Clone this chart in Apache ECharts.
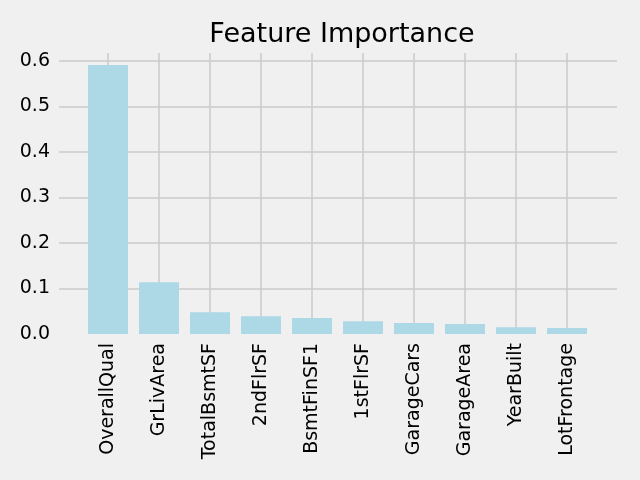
<!DOCTYPE html>
<html>
<head>
<meta charset="utf-8">
<script src="https://cdn.jsdelivr.net/npm/echarts@6/dist/echarts.min.js"></script>
<style>html,body{margin:0;padding:0;background:#f0f0f0;}#c{width:640px;height:480px;}</style>
</head>
<body>
<div id="c"></div>
<script>
const categories = ['OverallQual','GrLivArea','TotalBsmtSF','2ndFlrSF','BsmtFinSF1','1stFlrSF','GarageCars','GarageArea','YearBuilt','LotFrontage'];
const importance = [0.591, 0.114, 0.048, 0.039, 0.035, 0.028, 0.024, 0.022, 0.015, 0.013];
const yTicks = [0.0, 0.1, 0.2, 0.3, 0.4, 0.5, 0.6];
const titleText = 'Feature Importance';

const FONT = 'DejaVu Sans';
const yMaxBars = 0.6176;
const gridColors = yTicks.map((t, i) => i === 0 ? '#f0f0f0' : '#cbcbcb');
const chart = echarts.init(document.getElementById('c'), null, {renderer: 'canvas'});
chart.setOption({
  backgroundColor: '#f0f0f0',
  animation: false,
  title: {
    text: titleText, left: 337, top: 16, textAlign: 'center',
    textStyle: {fontFamily: FONT, fontSize: 27, fontWeight: 'normal', color: '#000'}
  },
  grid: [
    {left: 59, right: 23, top: 61, bottom: 146},
    {left: 108, width: 459, top: 53, bottom: 146}
  ],
  xAxis: [
    {gridIndex: 0, type: 'value', min: 0, max: 1, show: false},
    {gridIndex: 1, type: 'value', min: 0, max: categories.length - 1, interval: 1,
      axisLine: {show: false}, axisTick: {show: false},
      splitLine: {show: true, lineStyle: {color: '#cbcbcb', width: 1.5}},
      axisLabel: {rotate: 90, margin: 9, fontFamily: FONT, fontSize: 19, color: '#000',
        formatter: v => categories[Math.round(v)] || ''}
    }
  ],
  yAxis: [
    {gridIndex: 0, type: 'value', min: 0, max: yTicks[yTicks.length - 1], interval: 0.1,
      axisLine: {show: false}, axisTick: {show: false},
      splitLine: {show: true, lineStyle: {color: gridColors, width: 1.5}},
      axisLabel: {margin: 9, fontFamily: FONT, fontSize: 19, color: '#000',
        formatter: v => v.toFixed(1)}
    },
    {gridIndex: 1, type: 'value', min: 0, max: yMaxBars, show: false}
  ],
  series: [{
    type: 'bar', xAxisIndex: 1, yAxisIndex: 1, clip: false,
    barWidth: 40,
    itemStyle: {color: '#add8e6'},
    data: importance.map((v, i) => [i, v])
  }]
});
</script>
</body>
</html>
